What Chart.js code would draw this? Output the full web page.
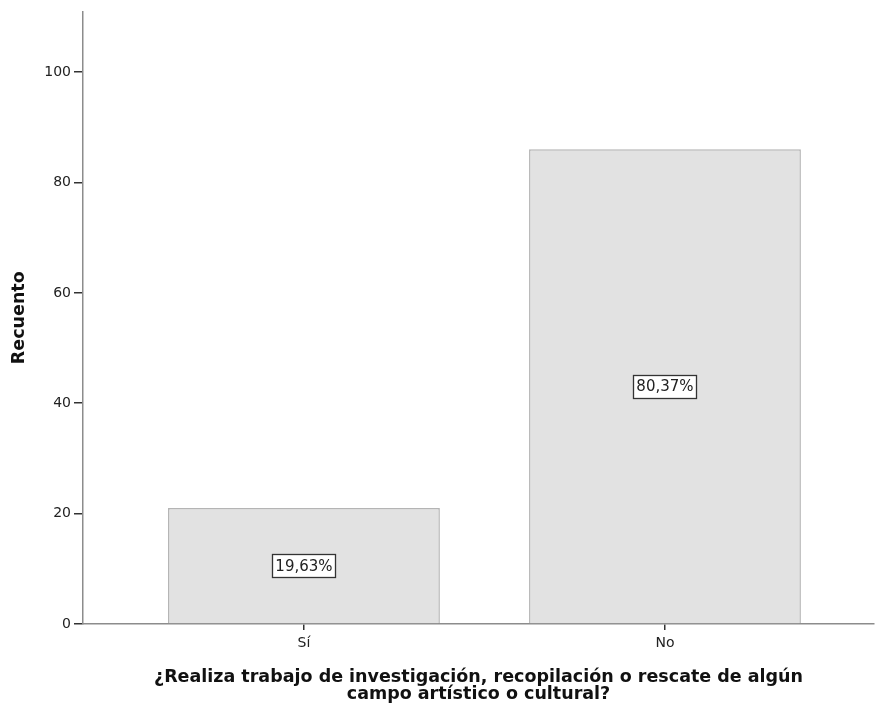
<!DOCTYPE html>
<html>
<head>
<meta charset="utf-8">
<script src="https://cdn.jsdelivr.net/npm/chart.js@4"></script>
<style>
  html, body { margin: 0; padding: 0; background: #fff; }
  #wrap { width: 875px; height: 715px; position: relative; }
</style>
</head>
<body>
<div id="wrap"><canvas id="c"></canvas></div>
<script>
const categories = ['Sí', 'No'];
const counts = [21, 86];
const yTicks = [0, 20, 40, 60, 80, 100];
const yTitle = 'Recuento';
const xTitle = ['¿Realiza trabajo de investigación, recopilación o rescate de algún', 'campo artístico o cultural?'];

const total = counts.reduce((a, b) => a + b, 0);
const pctLabels = counts.map(v => (v / total * 100).toFixed(2).replace('.', ',') + '%');
const points = counts.map((v, i) => ({ x: i + 1, y: v }));

const boxLabels = {
  id: 'boxLabels',
  afterDatasetsDraw(chart) {
    const ctx = chart.ctx;
    const meta = chart.getDatasetMeta(0);
    ctx.save();
    ctx.font = '15px "DejaVu Sans"';
    ctx.textAlign = 'center';
    ctx.textBaseline = 'middle';
    meta.data.forEach((bar, i) => {
      const txt = pctLabels[i];
      const cx = bar.x;
      const cy = (bar.y + bar.base) / 2;
      const w = Math.round(ctx.measureText(txt).width + 6);
      const h = 23;
      const x0 = Math.round(cx - w / 2), y0 = Math.round(cy - h / 2);
      ctx.fillStyle = '#ffffff';
      ctx.fillRect(x0, y0, w, h);
      ctx.strokeStyle = '#333333';
      ctx.lineWidth = 1.3;
      ctx.strokeRect(x0 + 0.5, y0 + 0.5, w, h);
      ctx.fillStyle = '#222222';
      ctx.fillText(txt, cx, cy + 1);
    });
    ctx.restore();
  }
};

new Chart(document.getElementById('c'), {
  type: 'bar',
  data: {
    datasets: [{
      data: points,
      backgroundColor: '#e2e2e2',
      borderColor: '#b4b4b4',
      borderWidth: 1.5,
      barPercentage: 0.753,
      categoryPercentage: 1
    }]
  },
  options: {
    responsive: true,
    maintainAspectRatio: false,
    animation: false,
    layout: { padding: { top: 9, right: 1, left: 0, bottom: 0 } },
    plugins: { legend: { display: false }, tooltip: { enabled: false } },
    scales: {
      x: {
        type: 'linear',
        offset: false,
        min: 0.388,
        max: 2.579,
        afterBuildTicks: s => { s.ticks = categories.map((c, i) => ({ value: i + 1 })); },
        afterFit: s => { s.height = 91; },
        grid: { offset: false, drawOnChartArea: false, drawTicks: true, tickLength: 6, tickColor: '#333', lineWidth: 1.5 },
        border: { color: '#8c8c8c', width: 1.5 },
        ticks: {
          padding: 5,
          color: '#222',
          font: { family: 'DejaVu Sans', size: 14 },
          callback: v => categories[Math.round(v) - 1] || ''
        },
        title: {
          display: true,
          text: xTitle,
          color: '#111',
          font: { family: 'DejaVu Sans', size: 17.5, weight: 'bold', lineHeight: '17px' },
          padding: { top: 0, bottom: 12 }
        }
      },
      y: {
        min: 0,
        max: 111,
        afterBuildTicks: s => { s.ticks = yTicks.map(v => ({ value: v })); },
        afterFit: s => { s.width = 83; },
        grid: { drawOnChartArea: false, drawTicks: true, tickLength: 9, tickColor: '#333', lineWidth: 1.5 },
        border: { color: '#8c8c8c', width: 1.5 },
        ticks: {
          padding: 3,
          color: '#222',
          font: { family: 'DejaVu Sans', size: 14 }
        },
        title: {
          display: true,
          text: yTitle,
          color: '#111',
          font: { family: 'DejaVu Sans', size: 17.5, weight: 'bold', lineHeight: '18px' },
          padding: { top: 10, bottom: 0 }
        }
      }
    }
  },
  plugins: [boxLabels]
});
</script>
</body>
</html>
